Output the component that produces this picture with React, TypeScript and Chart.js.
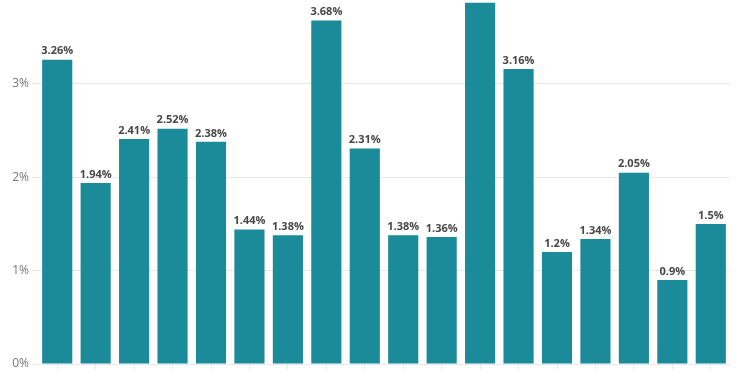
import React, { useEffect, useRef } from "react";
import { Chart, registerables } from "chart.js";

Chart.register(...registerables);

const categories = [
  "A", "B", "C", "D", "E", "F", "G", "H", "I",
  "J", "K", "L", "M", "N", "O", "P", "Q", "R",
];
const values = [
  3.26, 1.94, 2.41, 2.52, 2.38, 1.44, 1.38, 3.68, 2.31,
  1.38, 1.36, 3.87, 3.16, 1.2, 1.34, 2.05, 0.9, 1.5,
];
const yTickValues = [0, 1, 2, 3];

const valueLabels = {
  id: "valueLabels",
  afterDatasetsDraw(chart: any) {
    const ctx = chart.ctx;
    const meta = chart.getDatasetMeta(0);
    ctx.save();
    ctx.font = "bold 11px 'Open Sans'";
    ctx.fillStyle = "#474747";
    ctx.textAlign = "center";
    ctx.textBaseline = "bottom";
    meta.data.forEach((bar: any, i: number) => {
      ctx.fillText(values[i] + "%", bar.x, bar.y - 3);
    });
    ctx.restore();
  },
};

export default function App() {
  const ref = useRef<HTMLCanvasElement | null>(null);
  useEffect(() => {
    if (!ref.current) return;
    const chart = new Chart(ref.current, {
      type: "bar",
      data: {
        labels: categories,
        datasets: [
          {
            data: values,
            backgroundColor: "#1b8a99",
            barPercentage: 0.8,
            categoryPercentage: 0.98,
          },
        ],
      },
      options: {
        responsive: false,
        animation: false,
        layout: { padding: { top: 40, right: 20, left: 0, bottom: 0 } },
        plugins: {
          legend: { display: false },
          tooltip: { enabled: false },
        },
        scales: {
          x: {
            grid: {
              offset: false,
              drawOnChartArea: false,
              drawTicks: true,
              tickLength: 5,
              color: "#e4e4e4",
            },
            border: { display: false },
            ticks: { display: false },
            afterFit(scale: any) {
              scale.height = 11;
            },
          },
          y: {
            min: 0,
            max: 3.9,
            afterBuildTicks(scale: any) {
              scale.ticks = yTickValues.map((v) => ({ value: v }));
            },
            grid: { color: "#e8e8e8", tickLength: 6 },
            border: { display: false },
            ticks: {
              padding: 3,
              color: "#777777",
              font: { family: "'Open Sans'", size: 12 },
              callback: (v: any) => v + "%",
            },
            afterFit(scale: any) {
              scale.width = 38;
            },
          },
        },
      },
      plugins: [valueLabels],
    });
    return () => chart.destroy();
  }, []);
  return (
    <div style={{ position: "absolute", left: 0, top: -40, width: 750, height: 415 }}>
      <canvas ref={ref} width={750} height={415} />
    </div>
  );
}
